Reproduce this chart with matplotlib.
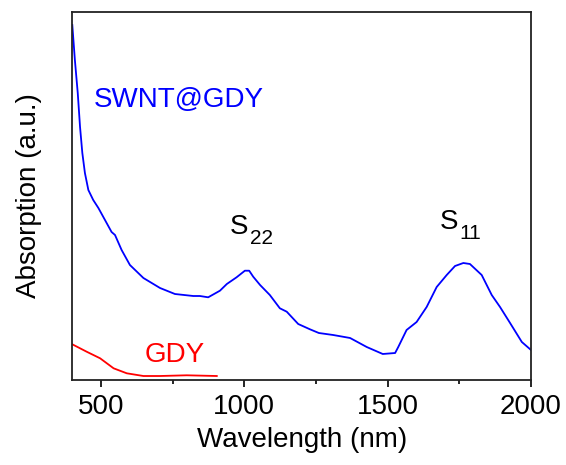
import matplotlib
matplotlib.use("Agg")
import matplotlib.pyplot as plt
from matplotlib.ticker import MultipleLocator

plt.rcParams['font.family'] = ['Liberation Sans', 'DejaVu Sans']

# SWNT@GDY absorption (arbitrary units)
swnt_wl = [400, 409, 419, 427, 435, 444, 456, 473, 491, 514, 537, 549, 572, 601, 648, 706,
           758, 822, 845, 874, 915, 939, 973, 1002, 1017, 1031, 1055, 1089, 1124, 1148, 1188,
           1229, 1260, 1310, 1369, 1427, 1483, 1526, 1537, 1566, 1601, 1636, 1671, 1706,
           1735, 1764, 1787, 1828, 1863, 1892, 1927, 1968, 2000]
swnt_abs = [3.55, 3.20, 2.87, 2.53, 2.27, 2.07, 1.90, 1.80, 1.72, 1.60, 1.48, 1.45, 1.30,
            1.15, 1.02, 0.92, 0.86, 0.84, 0.84, 0.827, 0.893, 0.96, 1.027, 1.093, 1.093,
            1.033, 0.95, 0.85, 0.717, 0.683, 0.56, 0.507, 0.47, 0.45, 0.42, 0.33, 0.26,
            0.27, 0.33, 0.50, 0.58, 0.73, 0.93, 1.05, 1.14, 1.17, 1.16, 1.05, 0.85, 0.73,
            0.57, 0.38, 0.30]

# GDY absorption
gdy_wl = [400, 450, 497, 544, 590, 648, 706, 799, 904]
gdy_abs = [0.357, 0.283, 0.217, 0.117, 0.067, 0.04, 0.04, 0.047, 0.04]

xticks = [500, 1000, 1500, 2000]

W, H = 566, 465
fig = plt.figure(figsize=(W/100, H/100), dpi=100)
ax = fig.add_axes([72.3/W, 1-380/H, (531-72.3)/W, (380-11.7)/H])

ax.plot(swnt_wl, swnt_abs, color='#0000ff', lw=1.3)
ax.plot(gdy_wl, gdy_abs, color='#ff0000', lw=1.3)

ax.set_xlim(400, 2000)
ax.set_ylim(0, 3.683)
ax.set_xticks(xticks)
ax.set_xticklabels([str(t) for t in xticks])
ax.xaxis.set_minor_locator(MultipleLocator(250))
ax.set_yticks([])
ax.tick_params(axis='x', which='major', direction='out', length=5, width=1.2,
               labelsize=20, pad=5)
ax.tick_params(axis='x', which='minor', direction='out', length=3, width=1.2)
for s in ax.spines.values():
    s.set_linewidth(1.3)
    s.set_color('#222222')

ax.set_xlabel('Wavelength (nm)', fontsize=20, labelpad=5)
ax.set_ylabel('Absorption (a.u.)', fontsize=20, labelpad=22)

fig.text(94/W, 1-100/H, 'SWNT@GDY', color='#0000ff', fontsize=20, ha='left', va='center')
fig.text(145/W, 1-355/H, 'GDY', color='#ff0000', fontsize=20, ha='left', va='center')

# S22 label
fig.text(230/W, 1-234.3/H, 'S', color='black', fontsize=20, ha='left', va='baseline')
fig.text(250/W, 1-244/H, '22', color='black', fontsize=15, ha='left', va='baseline')
# S11 label
fig.text(440/W, 1-229.3/H, 'S', color='black', fontsize=20, ha='left', va='baseline')
fig.text(459.4/W, 1-239/H, '11', color='black', fontsize=15, ha='left', va='baseline')

fig.savefig('out.png', dpi=100)
